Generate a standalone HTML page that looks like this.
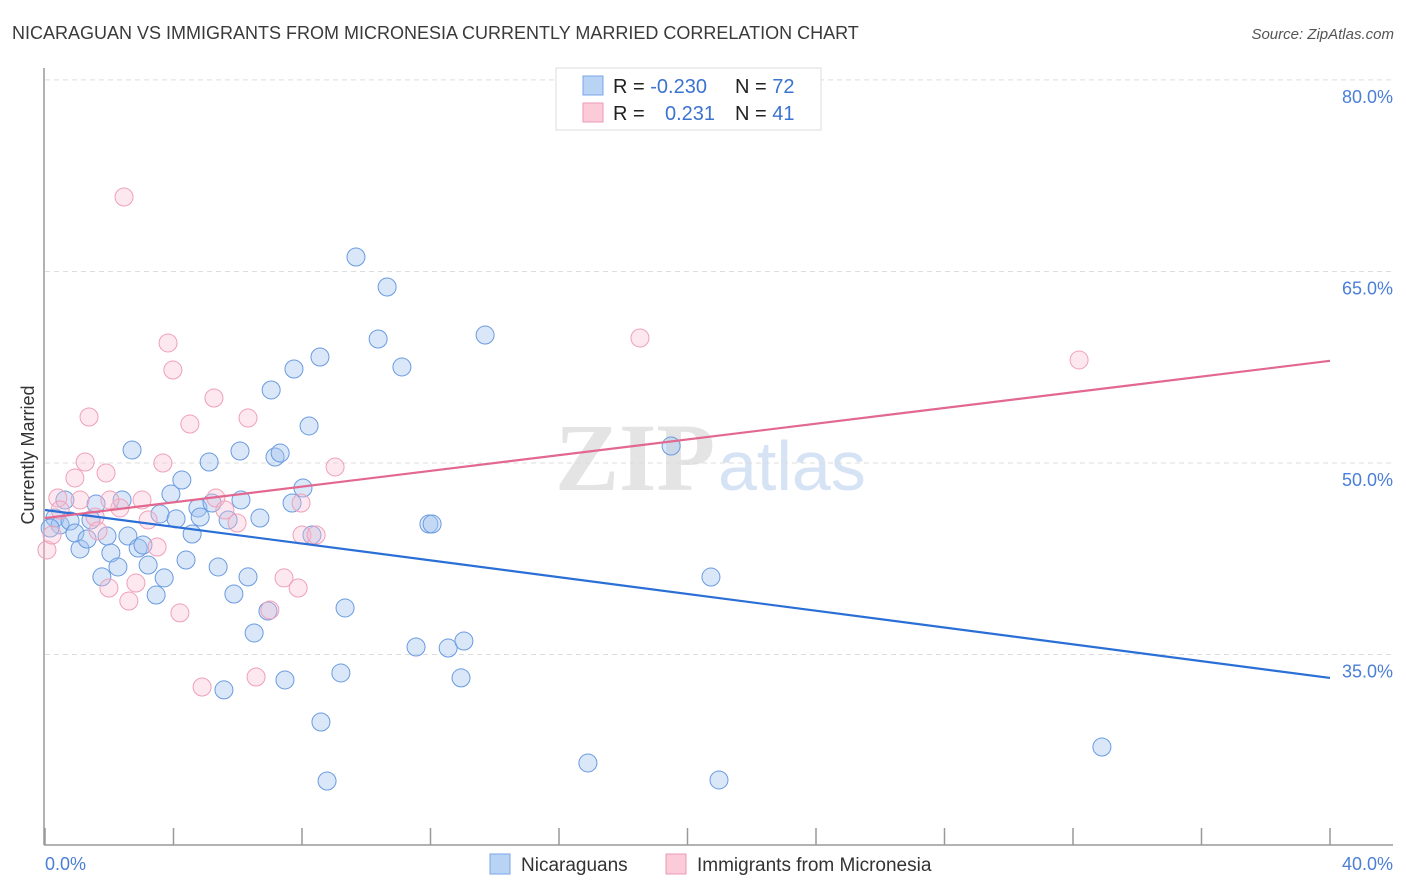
<!DOCTYPE html>
<html><head><meta charset="utf-8"><style>
body{margin:0;background:#fff;font-family:"Liberation Sans",sans-serif}
svg{display:block}
</style></head><body>
<svg id="c" width="1406" height="892">
<text x="12" y="39" font-size="18" fill="#3a3a3a">NICARAGUAN VS IMMIGRANTS FROM MICRONESIA CURRENTLY MARRIED CORRELATION CHART</text>
<text x="1394" y="39" font-size="15" fill="#555" font-style="italic" text-anchor="end">Source: ZipAtlas.com</text>
<text x="555" y="490" font-size="96" fill="#e4e4e4" font-family="Liberation Serif,serif" font-weight="bold">ZIP</text>
<text x="718" y="490" font-size="70" fill="#d6e3f5">atlas</text>
<text transform="translate(34,455) rotate(-90)" font-size="18" fill="#333" text-anchor="middle">Currently Married</text>
<g id="grid"></g><g id="pts"></g><g id="lines"></g>
<g>
<rect x="556" y="68" width="265" height="62" fill="#fff" stroke="#ddd"/>
<rect x="583" y="76" width="20" height="19" fill="#b9d3f5" stroke="#7aa5e6"/>
<rect x="583" y="103" width="20" height="19" fill="#fbcbd9" stroke="#ee9ab5"/>
<text x="613" y="93" font-size="20" fill="#222">R = <tspan fill="#3b73d1">-0.230</tspan></text>
<text x="735" y="93" font-size="20" fill="#222">N = <tspan fill="#3b73d1">72</tspan></text>
<text x="613" y="120" font-size="20" fill="#222">R = <tspan fill="#3b73d1" x="665">0.231</tspan></text>
<text x="735" y="120" font-size="20" fill="#222">N = <tspan fill="#3b73d1">41</tspan></text>
</g>
<g>
<rect x="490" y="854" width="20" height="20" fill="#b9d3f5" stroke="#7aa5e6"/>
<text x="521" y="871" font-size="19" fill="#333">Nicaraguans</text>
<rect x="666" y="854" width="20" height="20" fill="#fbcbd9" stroke="#ee9ab5"/>
<text x="697" y="871" font-size="19" fill="#333">Immigrants from Micronesia</text>
</g>
</svg>
<script>
const yTicks=[80,65,50,35];
const xTickLabels=["0.0%","40.0%"];
const blueX=[0.31,0.47,0.78,0.62,1.09,0.93,1.31,1.59,1.77,1.43,1.93,2.05,2.27,2.40,2.58,2.71,2.90,3.05,3.21,3.46,3.71,3.58,3.92,4.08,4.26,4.39,4.58,4.76,4.83,5.11,5.20,5.39,5.57,5.70,5.88,6.07,6.10,6.32,6.51,6.69,6.94,7.04,7.16,7.32,7.47,7.75,7.69,8.03,8.22,8.31,8.56,8.59,8.78,9.21,9.34,9.68,10.37,10.65,11.11,11.55,11.95,12.05,12.55,12.95,13.04,13.70,16.90,19.49,20.73,20.98,32.90,0.16];
const blueY=[45.69,45.15,45.46,47.10,43.27,44.52,44.05,46.79,41.08,45.54,44.28,42.95,41.86,47.10,44.28,51.02,43.34,43.58,42.01,39.66,41.00,46.01,47.57,45.62,48.67,42.40,44.44,46.48,45.77,50.08,46.87,41.86,32.23,45.54,39.74,50.94,47.10,41.08,36.69,45.69,38.41,55.72,50.47,50.78,33.01,57.36,46.87,48.04,52.90,44.36,58.30,29.72,25.10,33.56,38.65,66.13,59.71,63.78,57.52,35.59,45.22,45.22,35.51,33.17,36.06,60.02,26.51,51.33,41.07,25.18,27.76,44.91];
const pinkX=[2.46,3.83,3.98,4.51,5.26,6.32,1.37,1.25,0.93,1.90,0.40,1.09,1.56,2.33,3.02,3.67,5.32,5.98,3.21,3.49,1.65,1.99,2.83,2.61,4.20,4.89,6.57,7.00,7.44,7.88,8.00,8.44,9.03,7.97,18.52,32.19,0.06,2.02,0.47,0.22,5.60];
const pinkY=[70.83,59.40,57.28,53.05,55.09,53.52,53.60,50.08,48.83,49.22,47.26,47.10,45.77,46.48,47.10,50.00,47.26,45.30,45.54,43.42,44.68,40.21,40.60,39.19,38.26,32.46,33.24,38.49,41.00,40.21,44.36,44.36,49.69,46.87,59.79,58.07,43.19,47.10,46.32,44.36,46.32];
const blueTrend=[46.32,33.17];
const pinkTrend=[45.69,58.0];
const NS="http://www.w3.org/2000/svg";
const X0=45,X1=1330,XMAX=40;
function sx(v){return X0+(X1-X0)*v/XMAX;}
function sy(v){return 463-(v-50)*12.77;}
function mk(tag,attrs,parent){const e=document.createElementNS(NS,tag);for(const k in attrs)e.setAttribute(k,attrs[k]);parent.appendChild(e);return e;}
const grid=document.getElementById('grid');
yTicks.forEach(t=>{
  const l=mk('line',{x1:45,x2:1393,y1:sy(t),y2:sy(t),stroke:'#ddd','stroke-dasharray':'5,4'},grid);
  
  
  const tx=mk('text',{x:1393,y:sy(t)+23,'font-size':18,fill:'#4a7fd6','text-anchor':'end'},grid);
  tx.textContent=t.toFixed(1)+'%';
  
  
});
const ax=mk('line',{x1:44,x2:44,y1:68,y2:845,stroke:'#999','stroke-width':1.5},grid);


const bx=mk('line',{x1:44,x2:1393,y1:845,y2:845,stroke:'#999','stroke-width':1.5},grid);


for(let i=0;i<=10;i++){
  const t=mk('line',{x1:sx(i*4),x2:sx(i*4),y1:828,y2:845,stroke:'#999','stroke-width':1.5},grid);
  
  
}
xTickLabels.forEach((s,i)=>{
  const t=mk('text',{x:i?1393:45,y:870,'font-size':18,fill:'#4a7fd6','text-anchor':i?'end':'start'},grid);
  t.textContent=s;
  
  
});
const pts=document.getElementById('pts');
blueX.forEach((x,i)=>{
  const c=mk('circle',{cx:sx(x),cy:sy(blueY[i]),r:9,fill:'rgba(160,195,240,0.4)',stroke:'#6a9be0','stroke-width':1},pts);
  
  
});
pinkX.forEach((x,i)=>{
  const c=mk('circle',{cx:sx(x),cy:sy(pinkY[i]),r:9,fill:'rgba(248,190,208,0.35)',stroke:'#efa0b9','stroke-width':1},pts);
  
  
});
const lines=document.getElementById('lines');
const bl=mk('line',{x1:sx(0),y1:sy(blueTrend[0]),x2:sx(40),y2:sy(blueTrend[1]),stroke:'#2a6fd6','stroke-width':2.2},lines);


const pl=mk('line',{x1:sx(0),y1:sy(pinkTrend[0]),x2:sx(40),y2:sy(pinkTrend[1]),stroke:'#e2688f','stroke-width':2.2},lines);


</script>
</body></html>
